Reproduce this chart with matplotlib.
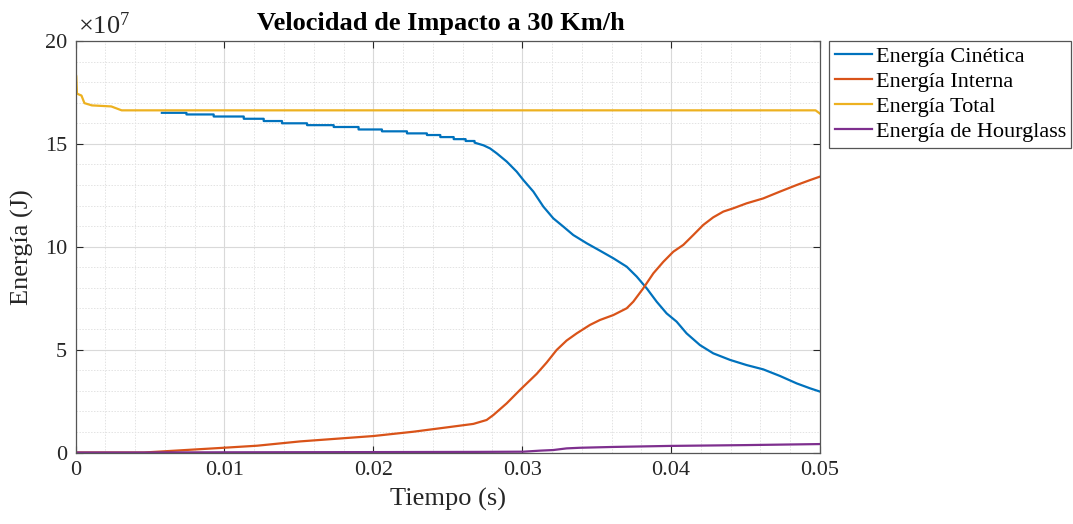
import matplotlib
matplotlib.use("Agg")
import matplotlib.pyplot as plt
from matplotlib.ticker import MultipleLocator, FuncFormatter

plt.rcParams['font.family'] = ['Liberation Serif', 'DejaVu Serif']
plt.rcParams['mathtext.fontset'] = 'custom'
plt.rcParams['mathtext.rm'] = 'Liberation Serif'
plt.rcParams['mathtext.it'] = 'Liberation Serif:italic'

# ---- data (energies in units of 1e7 J) ----
title = "Velocidad de Impacto a 30 Km/h"
xlabel = "Tiempo (s)"
ylabel = "Energía (J)"
labels = ["Energía Cinética", "Energía Interna", "Energía Total", "Energía de Hourglass"]
colors = ["#0072BD", "#D95319", "#EDB120", "#7E2F8E"]

t_kin = [0.0058,
         0.00745, 0.00745, 0.00928, 0.00928, 0.0113, 0.0113, 0.01264, 0.01264,
         0.01387, 0.01387, 0.01555, 0.01555, 0.01734, 0.01734, 0.01901, 0.01901,
         0.02058, 0.02058, 0.02226, 0.02226, 0.0236, 0.0236, 0.0245, 0.0245,
         0.0254, 0.0254, 0.0262, 0.0262, 0.0268, 0.0268, 0.0274,
         0.02784, 0.02829, 0.02896, 0.02963, 0.03008, 0.03075, 0.03142, 0.03209,
         0.03276, 0.03343, 0.03433, 0.03522, 0.03612, 0.03702, 0.03769, 0.03836,
         0.03903, 0.03970, 0.04037, 0.04104, 0.04194, 0.04283, 0.04396, 0.04507,
         0.04619, 0.04731, 0.04843, 0.04933, 0.05000]
e_kin = [16.51,
         16.51, 16.43, 16.43, 16.33, 16.33, 16.22, 16.22, 16.11,
         16.11, 16.00, 16.00, 15.91, 15.91, 15.82, 15.82, 15.70,
         15.70, 15.61, 15.61, 15.51, 15.51, 15.43, 15.43, 15.33,
         15.33, 15.23, 15.23, 15.14, 15.14, 15.06, 14.93,
         14.78, 14.54, 14.14, 13.65, 13.24, 12.68, 11.95, 11.38,
         10.98, 10.57, 10.17, 9.81, 9.44, 9.03, 8.55, 7.98,
         7.33, 6.76, 6.36, 5.79, 5.22, 4.82, 4.50, 4.25,
         4.04, 3.72, 3.36, 3.12, 2.96]

t_int = [0, 0.0046, 0.00995, 0.0122, 0.0151, 0.0200, 0.02269, 0.02493, 0.02672,
         0.02761, 0.02806, 0.02896, 0.02985, 0.03097, 0.03164, 0.03231, 0.03298,
         0.03366, 0.03455, 0.03522, 0.03612, 0.03702, 0.03746, 0.03813, 0.03881,
         0.03948, 0.04015, 0.04082, 0.04149, 0.04216, 0.04283, 0.04351, 0.04418,
         0.04507, 0.04619, 0.04731, 0.04843, 0.04933, 0.05000]
e_int = [0, 0, 0.23, 0.33, 0.54, 0.80, 1.01, 1.22, 1.39,
         1.58, 1.82, 2.39, 3.04, 3.82, 4.37, 4.98, 5.44,
         5.79, 6.20, 6.44, 6.68, 7.01, 7.33, 7.98, 8.71,
         9.27, 9.76, 10.09, 10.57, 11.06, 11.43, 11.71, 11.87,
         12.11, 12.35, 12.68, 13.00, 13.24, 13.41]

t_tot = [0, 0.00005, 0.0001, 0.0004, 0.0006, 0.0011, 0.0024, 0.0031, 0.0497, 0.0500]
e_tot = [18.41, 18.30, 17.44, 17.35, 16.98, 16.87, 16.82, 16.63, 16.63, 16.47]

t_hg = [0, 0.004, 0.010, 0.02045, 0.027, 0.03008, 0.03119, 0.03209, 0.03298,
        0.03388, 0.03612, 0.03993, 0.04507, 0.05000]
e_hg = [0, 0, 0.01, 0.02, 0.03, 0.04, 0.09, 0.12, 0.20,
        0.23, 0.27, 0.32, 0.36, 0.41]

xticks = [0, 0.01, 0.02, 0.03, 0.04, 0.05]
yticks = [0, 5, 10, 15, 20]

# ---- figure ----
fig = plt.figure(figsize=(10.73, 5.24), dpi=100)
ax = fig.add_axes([75.5/1073, 1 - 452.5/524, (820 - 75.5)/1073, (452.5 - 41)/524])

series = [(t_kin, e_kin), (t_int, e_int), (t_tot, e_tot), (t_hg, e_hg)]
for (t, e), lab, c in zip(series, labels, colors):
    ax.plot(t, e, color=c, lw=1.6, label=lab, solid_joinstyle='round')

ax.set_xlim(0, 0.05)
ax.set_ylim(0, 20)
ax.set_xticks(xticks)
ax.set_yticks(yticks)
ax.xaxis.set_minor_locator(MultipleLocator(0.002))
ax.yaxis.set_minor_locator(MultipleLocator(1))
ax.xaxis.set_major_formatter(FuncFormatter(lambda v, p: "0" if v == 0 else f"{v:g}"))
ax.yaxis.set_major_formatter(FuncFormatter(lambda v, p: f"{v:g}"))

ax.grid(True, which='major', color='#d9d9d9', lw=0.8, ls='-')
ax.grid(True, which='minor', color='#e3e3e3', lw=0.7, ls=(0, (1.5, 1.5)))
ax.set_axisbelow(True)

ax.tick_params(which='major', direction='in', length=5, width=0.8, colors='#262626',
               top=True, right=True, labelsize=16, pad=6)
ax.tick_params(which='minor', length=0, top=True, right=True)
for s in ax.spines.values():
    s.set_color('#555555')
    s.set_linewidth(0.9)

ax.set_xlabel(xlabel, fontsize=19, labelpad=6, color='#262626')
ax.set_ylabel(ylabel, fontsize=19, labelpad=8, color='#262626')
ax.set_title(title, fontsize=19, fontweight='bold', pad=8, x=0.491)

ax.text(0.003, 1.004, r"$\times10^{7}$", transform=ax.transAxes, fontsize=19,
        color='#262626', ha='left', va='bottom')

leg = ax.legend(loc='upper left', bbox_to_anchor=(829/1073, 1 - 41/524),
                bbox_transform=fig.transFigure, fontsize=16, frameon=True,
                fancybox=False, edgecolor='#555555', framealpha=1,
                handlelength=1.7, handletextpad=0.15, labelspacing=0.2,
                borderpad=0.25, borderaxespad=0)
leg.get_frame().set_linewidth(0.9)

fig.savefig("out.png", dpi=100)
